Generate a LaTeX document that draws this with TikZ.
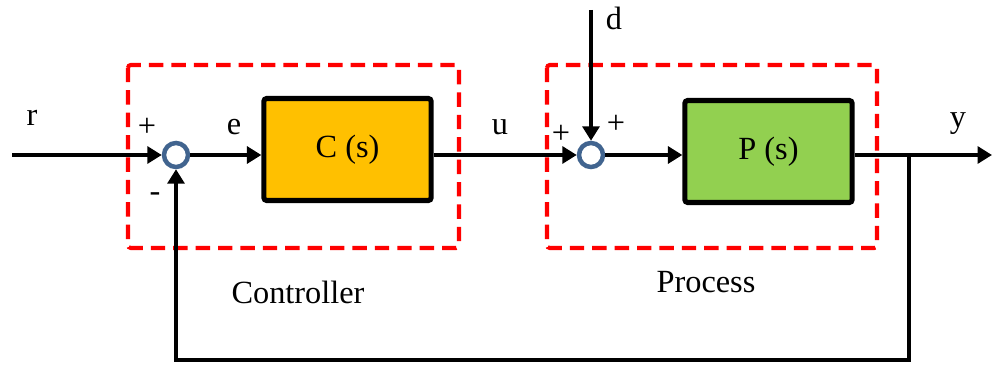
\documentclass[tikz,border=0pt]{standalone}
\usepackage{fontspec}
\setmainfont{Liberation Serif}
\usepackage{xcolor}
\usetikzlibrary{arrows.meta, positioning}
\definecolor{sumblue}{HTML}{41648F}
\definecolor{ctrlorange}{HTML}{FFC000}
\definecolor{procgreen}{HTML}{92D050}

\begin{document}
\begin{tikzpicture}[
  x=0.025cm, y=-0.025cm,
  every node/.style={font=\fontsize{23}{27}\selectfont},
  block/.style={rectangle, draw=black, line width=3.6pt, rounded corners=2pt, minimum width=4.18cm, minimum height=2.55cm},
  sum/.style={circle, draw=sumblue, line width=3.2pt, minimum size=0.6cm, inner sep=0pt, fill=white},
  group/.style={draw=red, line width=2.9pt, dash pattern=on 0.36cm off 0.2cm, rounded corners=2pt},
  arrow/.style={-{Triangle[length=0.36cm, width=0.42cm]}, line width=3.2pt},
  wire/.style={line width=3.2pt}
]
  \useasboundingbox (0,0) rectangle (992,366);

  % controller and process groups
  \draw[group] (128,65) rectangle (459,248);
  \draw[group] (547,65) rectangle (877,248);
  \node (ctrl) at (298,292) {Controller};
  \node (proc) at (706,282) {Process};

  \node[block, fill=ctrlorange] (cblock) at (347.5,149.5) {C (s)};
  \node[block, fill=procgreen] (pblock) at (768.5,151.5) {P (s)};
  \node[sum] (sum1) at (176,155) {};
  \node[sum] (sum2) at (591,155) {};

  \coordinate (rin) at (12,155);
  \coordinate (din) at (591,10);
  \coordinate (yout) at (992,155);
  \coordinate (branch) at (909,155);
  \coordinate (fb) at (909,360);

  \draw[arrow] (rin) -- (sum1);
  \draw[arrow] (sum1) -- (sum1 -| cblock.west);
  \draw[arrow] (cblock.east |- sum2) -- (sum2);
  \draw[arrow] (din) -- (sum2);
  \draw[arrow] (sum2) -- (sum2 -| pblock.west);
  \draw[arrow] (pblock.east |- yout) -- (yout);
  \draw[arrow] (branch) -- (fb) -| (sum1.south);

  % signal labels
  \node (r) at (32,118) {r};
  \node (e) at (234,127) {e};
  \node (u) at (500,127) {u};
  \node (d) at (614,18) {d};
  \node (y) at (958,124) {y};
  \node (p1) at (147,127) {+};
  \node (m1) at (155,197) {-};
  \node (p2) at (561,134) {+};
  \node (p3) at (616,124) {+};
\end{tikzpicture}
\end{document}
